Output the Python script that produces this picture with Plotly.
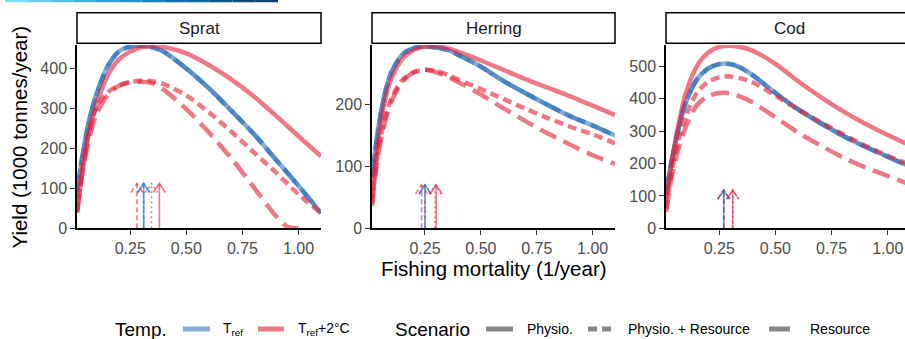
import plotly.graph_objects as go

W, H = 905, 339

# ---------------- data ----------------
F = [0.013, 0.04, 0.07, 0.1, 0.15, 0.2, 0.25, 0.3, 0.35, 0.4, 0.5, 0.6, 0.7, 0.8, 0.9, 1.0, 1.1]
F_sprat_res = [0.013, 0.04, 0.07, 0.1, 0.15, 0.2, 0.25, 0.3, 0.35, 0.4, 0.5, 0.6, 0.7, 0.8, 0.9, 0.95, 1.0]

species = ["Sprat", "Herring", "Cod"]

sprat_tref = [90, 190, 276, 335, 405, 442, 454, 456, 452, 441, 399, 350, 294, 236, 171, 106, 38]
sprat_phys = [40, 150, 250, 310, 382, 422, 442, 452, 455, 453, 437, 408, 372, 330, 281, 230, 180]
sprat_physres = [40, 165, 250, 302, 340, 357, 365, 369, 367, 360, 332, 290, 242, 190, 139, 85, 38]
sprat_res = [40, 150, 230, 285, 333, 356, 365, 366, 362, 346, 298, 240, 175, 103, 30, 4, 0]

herring_tref = [83, 158, 217, 252, 281, 291, 294, 292, 288, 280, 261, 238, 218, 199, 181, 166, 150]
herring_phys = [50, 140, 205, 242, 274, 288, 293, 294, 291, 285, 271, 256, 241, 227, 213, 198, 183]
herring_physres = [40, 125, 176, 210, 240, 252, 256, 254, 248, 240, 225, 209, 193, 178, 164, 152, 137]
herring_res = [36, 118, 170, 205, 237, 252, 256, 252, 245, 236, 216, 194, 173, 153, 135, 118, 104]

cod_tref = [105, 214, 310, 386, 459, 493, 507, 507, 494, 472, 418, 368, 325, 286, 252, 221, 190]
cod_phys = [90, 212, 325, 415, 500, 542, 560, 564, 559, 548, 508, 455, 406, 362, 323, 288, 256]
cod_physres = [60, 180, 275, 345, 418, 452, 466, 469, 462, 450, 410, 367, 328, 291, 255, 224, 196]
cod_res = [50, 165, 250, 312, 380, 408, 418, 417, 405, 388, 343, 296, 256, 219, 188, 162, 135]

# F_msy arrows: T_ref, Physio., Physio.+Resource, Resource
fmsy_tref = [0.31, 0.25, 0.27]
fmsy_phys = [0.38, 0.30, 0.31]
fmsy_physres = [0.345, 0.295, 0.31]
fmsy_res = [0.28, 0.235, 0.27]
arrow_top = [112, 70, 118]

y_max = [458, 296, 566]
x_min = 0.013
x_max = [1.1, 1.1, 1.077]
y_ticks = [[0, 100, 200, 300, 400], [0, 100, 200], [0, 100, 200, 300, 400, 500]]
x_ticks = [0.25, 0.5, 0.75, 1.0]
x_ticktext = ["0.25", "0.50", "0.75", "1.00"]

curves = {
    "Sprat": [(F, sprat_tref), (F, sprat_phys), (F, sprat_physres), (F_sprat_res, sprat_res)],
    "Herring": [(F, herring_tref), (F, herring_phys), (F, herring_physres), (F, herring_res)],
    "Cod": [(F, cod_tref), (F, cod_phys), (F, cod_physres), (F, cod_res)],
}

# ---------------- styles ----------------
FONT = "Liberation Sans, Arial, sans-serif"
BLUE = "rgba(55,120,190,0.6)"
RED = "rgba(228,30,55,0.6)"
DASH_SOLID = "solid"
DASH_PR = "9px,5px"
DASH_RES = "18px,8px"
ADASH = {"solid": "solid", "pr": "2px,3px", "res": "5px,3px"}
LW = 4.5
ALW = 1.6

# pixel layout
panel_px = [(77, 321), (372, 615), (666, 905)]
plot_top, plot_bot = 45.0, 228.3
strip_top, strip_bot = 12.7, 43.3

def px_x(p):
    return p / W

def px_y(p):
    return 1 - p / H

fig = go.Figure()

for i, sp in enumerate(species):
    ax = "" if i == 0 else str(i + 1)
    xa, ya = "x" + ax, "y" + ax
    cset = curves[sp]
    # blue T_ref drawn with all three scenario line types (identical values)
    fx, fy = cset[0]
    for dash in (DASH_SOLID, DASH_PR, DASH_RES):
        fig.add_trace(go.Scatter(x=fx, y=fy, mode="lines", xaxis=xa, yaxis=ya,
                                 line=dict(color=BLUE, width=LW, dash=dash, shape="spline", smoothing=0.8),
                                 showlegend=False, hoverinfo="skip"))
    for (fx, fy), dash in zip(cset[1:], (DASH_SOLID, DASH_PR, DASH_RES)):
        fig.add_trace(go.Scatter(x=fx, y=fy, mode="lines", xaxis=xa, yaxis=ya,
                                 line=dict(color=RED, width=LW, dash=dash, shape="spline", smoothing=0.8),
                                 showlegend=False, hoverinfo="skip"))

    # arrows
    wpx = panel_px[i][1] - panel_px[i][0]
    xscale = wpx / (x_max[i] - x_min)
    yscale = (plot_bot - plot_top) / y_max[i]
    dx = 6 / xscale
    dy = 9 / yscale
    top = arrow_top[i]
    arrows = [
        (fmsy_tref[i], BLUE, "solid"), (fmsy_tref[i], BLUE, "pr"), (fmsy_tref[i], BLUE, "res"),
        (fmsy_phys[i], RED, "solid"), (fmsy_physres[i], RED, "pr"), (fmsy_res[i], RED, "res"),
    ]
    for fm, col, kind in arrows:
        fig.add_trace(go.Scatter(
            x=[fm, fm, None, fm - dx, fm, fm + dx],
            y=[0, top, None, top - dy, top, top - dy],
            mode="lines", xaxis=xa, yaxis=ya,
            line=dict(color=col, width=ALW, dash=ADASH[kind]),
            showlegend=False, hoverinfo="skip"))

    axis_common = dict(showgrid=False, zeroline=False, showline=True, linecolor="black", linewidth=1.5,
                       ticks="outside", ticklen=5, tickwidth=1.3, tickcolor="#333333", automargin=False,
                       tickfont=dict(family=FONT, size=16, color="#4d4d4d"))
    fig.layout["xaxis" + ax] = dict(domain=[px_x(panel_px[i][0]), min(1.0, px_x(panel_px[i][1]))],
                                    range=[x_min, x_max[i]], anchor=ya,
                                    tickvals=x_ticks, ticktext=x_ticktext, **axis_common)
    fig.layout["yaxis" + ax] = dict(domain=[px_y(plot_bot), px_y(plot_top)], range=[0, y_max[i]],
                                    anchor=xa, tickvals=y_ticks[i], **axis_common)

    # strip
    x1s = panel_px[i][1] if i < 2 else 912
    fig.add_shape(type="rect", xref="paper", yref="paper",
                  x0=px_x(panel_px[i][0]), x1=px_x(x1s), y0=px_y(strip_bot), y1=px_y(strip_top),
                  line=dict(color="black", width=1.5), fillcolor="white")
    fig.add_annotation(text=sp, xref="paper", yref="paper", showarrow=False,
                       x=px_x((panel_px[i][0] + x1s) / 2), y=px_y((strip_top + strip_bot) / 2),
                       xanchor="center", yanchor="middle",
                       font=dict(family=FONT, size=17, color="#1a1a1a"))

# axis titles
fig.add_annotation(text="Fishing mortality (1/year)", xref="paper", yref="paper", showarrow=False,
                   x=px_x(493.5), y=px_y(268), xanchor="center", yanchor="middle",
                   font=dict(family=FONT, size=20.5, color="black"))
fig.add_annotation(text="Yield (1000 tonnes/year)", xref="paper", yref="paper", showarrow=False,
                   x=px_x(18.5), y=px_y(137), xanchor="center", yanchor="middle", textangle=-90,
                   font=dict(family=FONT, size=20.5, color="black"))

# legend (drawn manually)
ly = px_y(329)
def leg_text(t, xp, size):
    fig.add_annotation(text=t, xref="paper", yref="paper", showarrow=False, x=px_x(xp), y=ly,
                       xanchor="left", yanchor="middle", font=dict(family=FONT, size=size, color="black"))

def leg_key(x0, x1, col, dash="solid"):
    fig.add_shape(type="line", xref="paper", yref="paper", x0=px_x(x0), x1=px_x(x1), y0=ly, y1=ly,
                  line=dict(color=col, width=5, dash=dash))

leg_text("Temp.", 113, 19)
leg_key(183, 210, BLUE)
leg_text("T<sub>ref</sub>", 221, 14)
leg_key(258, 284, RED)
leg_text("T<sub>ref</sub>+2°C", 296, 14)
leg_text("Scenario", 393, 19)
leg_key(486, 513, "#888888")
leg_text("Physio.", 525, 14)
leg_key(588, 615, "#888888", "9px,5px")
leg_text("Physio. + Resource", 626, 14)
leg_key(769, 790, "#888888")
leg_text("Resource", 808, 14)

# decorative gradient bar at the top-left
grad = ["#7fd8f8", "#6ccbf2", "#58bdeb", "#45aee3", "#349fd9", "#268fcc", "#1b7fbe", "#1370ae",
        "#0e629e", "#0b558e", "#0a4a7f", "#093f70"]
n = len(grad)
for k, c in enumerate(grad):
    fig.add_shape(type="line", xref="paper", yref="paper",
                  x0=px_x(5 + k * (273 / n)), x1=px_x(5 + (k + 1) * (273 / n)),
                  y0=px_y(1), y1=px_y(1), line=dict(color=c, width=2.5))

fig.update_layout(width=W, height=H, margin=dict(l=0, r=0, t=0, b=0, autoexpand=False),
                  paper_bgcolor="white", plot_bgcolor="white", showlegend=False)

fig.write_html("out.html")
